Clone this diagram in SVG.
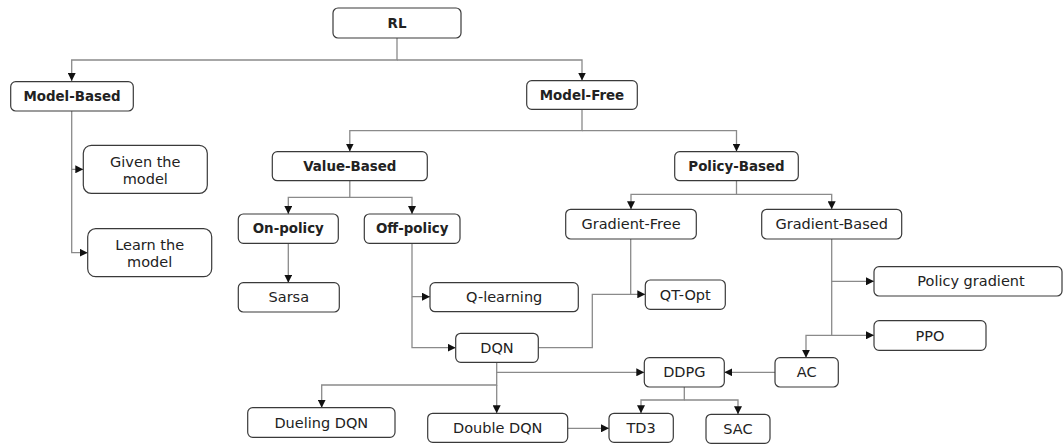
<svg xmlns="http://www.w3.org/2000/svg" width="1063" height="444" viewBox="0 0 1063 444">
  <defs>
    <marker id="arrow" markerWidth="8" markerHeight="8" refX="8" refY="4" orient="auto" markerUnits="userSpaceOnUse">
      <path d="M0,0 L8,4 L0,8 z" fill="#111"/>
    </marker>
    <style>
      .box { fill: #fff; stroke: #3a3a3a; stroke-width: 1.2; }
      .lbl { font-family: "DejaVu Sans", "Open Sans", sans-serif; font-size: 14.5px; fill: #222; text-anchor: middle; dominant-baseline: central; }
      .bold { font-weight: bold; font-size: 13.4px; }
      .edge { fill: none; stroke: #8a8a8a; stroke-width: 1.3; }
    </style>
  </defs>
  <rect width="1063" height="444" fill="#fff"/>

  <!-- connectors -->
  <g id="connectors">
    <path class="edge" d="M397,38 V60 H71.7 V81" marker-end="url(#arrow)"/>
    <path class="edge" d="M397,60 H582 V80.5" marker-end="url(#arrow)"/>
    <path class="edge" d="M71.7,111 V169.3 H83.3" marker-end="url(#arrow)"/>
    <path class="edge" d="M71.7,169 V252.7 H87.7" marker-end="url(#arrow)"/>
    <path class="edge" d="M582,109.3 V130.7 H349.8 V151.5" marker-end="url(#arrow)"/>
    <path class="edge" d="M582,130.7 H736.5 V151.5" marker-end="url(#arrow)"/>
    <path class="edge" d="M349.8,180.7 V197.3 H288.3 V214" marker-end="url(#arrow)"/>
    <path class="edge" d="M349.8,197.3 H412 V214" marker-end="url(#arrow)"/>
    <path class="edge" d="M288.3,243.3 V282.7" marker-end="url(#arrow)"/>
    <path class="edge" d="M412,243.3 V296.7 H430" marker-end="url(#arrow)"/>
    <path class="edge" d="M412,296.7 V347.7 H455.7" marker-end="url(#arrow)"/>
    <path class="edge" d="M538.3,347.7 H592.3 V294.3 H645.3" marker-end="url(#arrow)"/>
    <path class="edge" d="M630.7,239 V294.3"/>
    <path class="edge" d="M496.7,362.3 V372.3 H644.3" marker-end="url(#arrow)"/>
    <path class="edge" d="M496.7,372.3 V385 H321.7 V407.7" marker-end="url(#arrow)"/>
    <path class="edge" d="M496.7,385 V413.3" marker-end="url(#arrow)"/>
    <path class="edge" d="M567.7,428.3 H609" marker-end="url(#arrow)"/>
    <path class="edge" d="M684.3,387 V400 H641 V413.3" marker-end="url(#arrow)"/>
    <path class="edge" d="M684.3,400 H738 V414.3" marker-end="url(#arrow)"/>
    <path class="edge" d="M775,372.3 H724.3" marker-end="url(#arrow)"/>
    <path class="edge" d="M736.5,180.7 V194.3 H631 V209.3" marker-end="url(#arrow)"/>
    <path class="edge" d="M736.5,194.3 H831.7 V209.3" marker-end="url(#arrow)"/>
    <path class="edge" d="M831.7,239 V281.3 H874" marker-end="url(#arrow)"/>
    <path class="edge" d="M831.7,281.3 V335.3 H874" marker-end="url(#arrow)"/>
    <path class="edge" d="M831.7,335.3 H806 V357.7" marker-end="url(#arrow)"/>
  </g>

  <!-- nodes -->
  <g id="rl"><rect class="box" x="333" y="8" width="128" height="30" rx="5"/><text class="lbl bold" x="397" y="23">RL</text></g>
  <g id="model-based"><rect class="box" x="10.7" y="81.7" width="122.6" height="29.3" rx="5"/><text class="lbl bold" x="72" y="96.3">Model-Based</text></g>
  <g id="model-free"><rect class="box" x="526.7" y="80.7" width="110.6" height="28.6" rx="5"/><text class="lbl bold" x="582" y="95">Model-Free</text></g>
  <g id="given"><rect class="box" x="83.3" y="145.3" width="124" height="48" rx="8"/><text class="lbl" x="145.3" y="161.5">Given the<tspan x="145.3" dy="17">model</tspan></text></g>
  <g id="learn"><rect class="box" x="87.7" y="228.7" width="124" height="48" rx="8"/><text class="lbl" x="149.7" y="244.8">Learn the<tspan x="149.7" dy="17">model</tspan></text></g>
  <g id="value-based"><rect class="box" x="272.3" y="151.7" width="155" height="29" rx="5"/><text class="lbl bold" x="349.8" y="166.2">Value-Based</text></g>
  <g id="policy-based"><rect class="box" x="674.7" y="151.7" width="123.6" height="29" rx="5"/><text class="lbl bold" x="736.5" y="166.2">Policy-Based</text></g>
  <g id="on-policy"><rect class="box" x="238.3" y="214" width="100" height="29.3" rx="5"/><text class="lbl bold" x="288.3" y="228.7">On-policy</text></g>
  <g id="off-policy"><rect class="box" x="364.3" y="214" width="95.7" height="29.3" rx="5"/><text class="lbl bold" x="412.2" y="228.7">Off-policy</text></g>
  <g id="gradient-free"><rect class="box" x="565.7" y="209.3" width="130.6" height="29.7" rx="5"/><text class="lbl" x="631" y="224.2">Gradient-Free</text></g>
  <g id="gradient-based"><rect class="box" x="761.7" y="209.3" width="140" height="29.7" rx="5"/><text class="lbl" x="831.7" y="224.2">Gradient-Based</text></g>
  <g id="sarsa"><rect class="box" x="238.3" y="282.7" width="101" height="29.3" rx="5"/><text class="lbl" x="288.8" y="297.3">Sarsa</text></g>
  <g id="q-learning"><rect class="box" x="430" y="282.7" width="148.3" height="29" rx="5"/><text class="lbl" x="504.2" y="297.2">Q-learning</text></g>
  <g id="qt-opt"><rect class="box" x="645.3" y="280" width="80" height="29.3" rx="5"/><text class="lbl" x="685.3" y="294.7">QT-Opt</text></g>
  <g id="policy-gradient"><rect class="box" x="874" y="266.7" width="188" height="29.3" rx="5"/><text class="lbl" x="971" y="281.3">Policy gradient</text></g>
  <g id="ppo"><rect class="box" x="874" y="320.7" width="112" height="29.6" rx="5"/><text class="lbl" x="930" y="335.5">PPO</text></g>
  <g id="dqn"><rect class="box" x="455.7" y="333.3" width="82.6" height="29" rx="5"/><text class="lbl" x="497" y="347.8">DQN</text></g>
  <g id="ddpg"><rect class="box" x="644.3" y="357.7" width="80" height="29.3" rx="5"/><text class="lbl" x="684.3" y="372.3">DDPG</text></g>
  <g id="ac"><rect class="box" x="775" y="357.7" width="63.3" height="29.3" rx="5"/><text class="lbl" x="806.7" y="372.3">AC</text></g>
  <g id="dueling-dqn"><rect class="box" x="247.7" y="407.7" width="147.3" height="29.6" rx="5"/><text class="lbl" x="321.3" y="422.5">Dueling DQN</text></g>
  <g id="double-dqn"><rect class="box" x="427.7" y="413.3" width="140" height="29" rx="5"/><text class="lbl" x="497.7" y="427.8">Double DQN</text></g>
  <g id="td3"><rect class="box" x="609" y="413.3" width="64.3" height="29" rx="5"/><text class="lbl" x="641" y="427.8">TD3</text></g>
  <g id="sac"><rect class="box" x="706" y="414.3" width="64" height="29" rx="5"/><text class="lbl" x="738" y="428.8">SAC</text></g>
</svg>
